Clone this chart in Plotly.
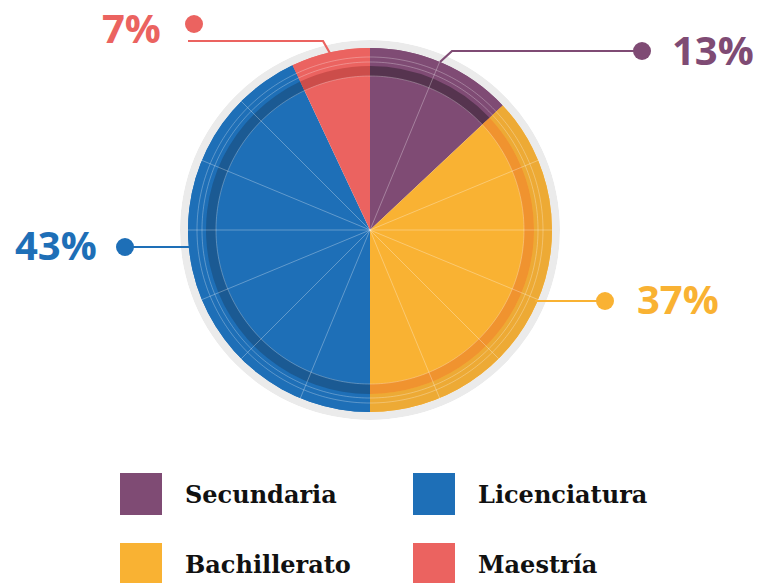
import numpy as np
import plotly.graph_objects as go

# ---- data ----
categories = ["Secundaria", "Bachillerato", "Licenciatura", "Maestría"]
percents = [13, 37, 43, 7]
labels = ["13%", "37%", "43%", "7%"]
colors = ["#7F4B74", "#F9B233", "#1E6FB7", "#EB6360"]
outer_colors = ["#7F4B74", "#EDAA35", "#1E6FB7", "#EB6360"]
dark_colors = ["#56344F", "#F0932F", "#1B5A93", "#CC4D4A"]
sub_angles = [22.5, 67.5, 90, 112.5, 135, 157.5, 202.5, 225, 247.5, 270, 292.5, 315]

# ---- geometry (pixels) ----
W, H = 766, 583
CX, CY = 370, 230
R_PIE = 182
R_GREY = 190
R_DARK_IN, R_DARK_OUT = 154, 164

widths = [p * 3.6 for p in percents]
starts = np.cumsum([0] + widths[:-1])
centers = [s + w / 2 for s, w in zip(starts, widths)]

fig = go.Figure()

# grey ring
fig.add_trace(go.Barpolar(r=[R_GREY - R_PIE], base=[R_PIE], theta=[180], width=[360],
                          marker=dict(color="#EBEBEB", line=dict(width=0)),
                          hoverinfo="skip", showlegend=False))
# main slices
fig.add_trace(go.Barpolar(r=[R_PIE] * 4, base=[0] * 4, theta=centers, width=widths,
                          marker=dict(color=colors, line=dict(width=0)),
                          text=categories, hoverinfo="text", showlegend=False))
# outer ring
fig.add_trace(go.Barpolar(r=[R_PIE - R_DARK_OUT] * 4, base=[R_DARK_OUT] * 4, theta=centers, width=widths,
                          marker=dict(color=outer_colors, line=dict(width=0)),
                          hoverinfo="skip", showlegend=False))
# dark band
fig.add_trace(go.Barpolar(r=[R_DARK_OUT - R_DARK_IN] * 4, base=[R_DARK_IN] * 4, theta=centers, width=widths,
                          marker=dict(color=dark_colors, line=dict(width=0)),
                          hoverinfo="skip", showlegend=False))
# thin circles
circ_t = np.linspace(0, 360, 361)
for rr in [R_DARK_IN, 168, 173]:
    fig.add_trace(go.Scatterpolar(r=[rr] * len(circ_t), theta=circ_t, mode="lines",
                                  line=dict(color="rgba(255,255,255,0.28)", width=1),
                                  hoverinfo="skip", showlegend=False))
# radial subdivision lines
rl, tl = [], []
for a in sub_angles:
    rl += [0, R_PIE, None]
    tl += [a, a, None]
fig.add_trace(go.Scatterpolar(r=rl, theta=tl, mode="lines",
                              line=dict(color="rgba(255,255,255,0.3)", width=1),
                              hoverinfo="skip", showlegend=False))

fig.update_layout(
    width=W, height=H, margin=dict(l=0, r=0, t=0, b=0),
    paper_bgcolor="white", plot_bgcolor="rgba(0,0,0,0)",
    polar=dict(
        domain=dict(x=[(CX - R_GREY) / W, (CX + R_GREY) / W],
                    y=[1 - (CY + R_GREY) / H, 1 - (CY - R_GREY) / H]),
        bgcolor="rgba(0,0,0,0)",
        radialaxis=dict(visible=False, range=[0, R_GREY]),
        angularaxis=dict(visible=False, rotation=90, direction="clockwise"),
    ),
    xaxis=dict(range=[0, W], visible=False, fixedrange=True),
    yaxis=dict(range=[H, 0], visible=False, fixedrange=True),
    showlegend=False,
)

shapes = []
annots = []
# leader lines: (color index, polyline points, dot center, label position, anchor)
leaders = [
    (0, [(440, 62), (452, 51), (642, 51)], (642, 51), (670, 49), "left"),
    (1, [(535, 301), (605, 301)], (605, 301), (635, 298), "left"),
    (2, [(190, 247), (125, 247)], (125, 247), (99, 244), "right"),
    (3, [(331, 55), (323, 41), (188, 41)], (194, 24), (163, 27), "right"),
]
for ci, pts, dot, lp, anchor in leaders:
    path = "M " + " L ".join(f"{x},{y}" for x, y in pts)
    shapes.append(dict(type="path", path=path, xref="x", yref="y", layer="above",
                       line=dict(color=colors[ci], width=2.2)))
    rd = 9
    shapes.append(dict(type="circle", xref="x", yref="y", layer="above",
                       x0=dot[0] - rd, x1=dot[0] + rd, y0=dot[1] - rd, y1=dot[1] + rd,
                       fillcolor=colors[ci], line=dict(width=0)))
    annots.append(dict(x=lp[0], y=lp[1], xref="x", yref="y", text=f"<b>{labels[ci]}</b>",
                       showarrow=False, xanchor=anchor, yanchor="middle",
                       font=dict(family="Open Sans", size=40, color=colors[ci])))

# custom legend
leg_pos = [(120, 473), (120, 543), (413, 473), (413, 543)]
for i, (lx, ly) in enumerate(leg_pos):
    shapes.append(dict(type="rect", xref="x", yref="y", layer="above",
                       x0=lx, x1=lx + 42, y0=ly, y1=ly + 42,
                       fillcolor=colors[i], line=dict(width=0)))
    annots.append(dict(x=lx + 63, y=ly + 21, xref="x", yref="y", text=f"<b>{categories[i]}</b>",
                       showarrow=False, xanchor="left", yanchor="middle",
                       font=dict(family="DejaVu Serif", size=24, color="#111111")))

fig.update_layout(shapes=shapes, annotations=annots)
fig.write_html("out.html", config={"displayModeBar": False},
               post_script="document.body.style.margin='0';document.body.style.padding='0';")
